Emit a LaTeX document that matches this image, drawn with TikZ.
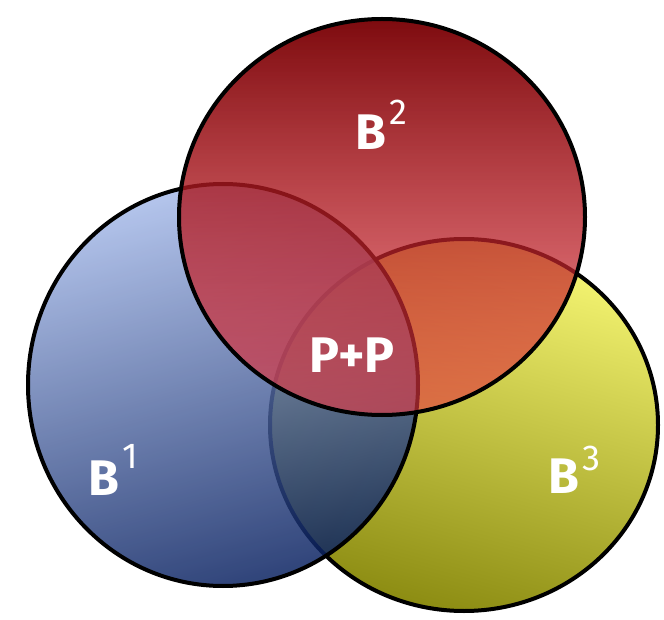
\documentclass[tikz,border=0pt]{standalone}
\usepackage{fontspec}
\setmainfont{Fira Sans}
\usetikzlibrary{fadings}
\definecolor{redtop}{RGB}{120,0,4}
\definecolor{redbot}{RGB}{235,58,68}
\definecolor{bluetop}{RGB}{165,185,232}
\definecolor{bluebot}{RGB}{8,32,96}
\definecolor{yeltop}{RGB}{246,246,115}
\definecolor{yelbot}{RGB}{140,140,18}
\tikzfading[name=redfade, top color=transparent!4, bottom color=transparent!40]
\tikzset{
  ring/.style={draw=black, line width=4pt},
  lbl/.style={text=white, inner sep=0pt, font=\fontsize{50}{50}\selectfont\bfseries},
}
\newcommand{\supnum}[2]{\hspace{3pt}\raisebox{#1pt}{\fontsize{36}{36}\selectfont\mdseries #2}}
\begin{document}
\begin{tikzpicture}[x=1pt,y=-1pt]
\useasboundingbox (0,0) rectangle (664,620);
% yellow (bottom)
\shade[top color=yeltop, bottom color=yelbot, shading angle=-15] (464,425) ellipse [x radius=194pt, y radius=186pt];
\draw[ring] (464,425) ellipse [x radius=194pt, y radius=186pt];
% blue
\shade[top color=bluetop, bottom color=bluebot, shading angle=15, fill opacity=0.84] (223,385) ellipse [x radius=195pt, y radius=201pt];
\draw[ring] (223,385) ellipse [x radius=195pt, y radius=201pt];
% red (top)
\shade[top color=redtop, bottom color=redbot, path fading=redfade] (382,217) ellipse [x radius=203pt, y radius=198pt];
\draw[ring] (382,217) ellipse [x radius=203pt, y radius=198pt];
% labels
\node[lbl, anchor=base west] (b1) at (88,495) {B\supnum{27}{1}};
\node[lbl, anchor=base west] (b2) at (355,150) {B\supnum{25}{2}};
\node[lbl, anchor=base west] (b3) at (548,493) {B\supnum{23}{3}};
\node[lbl, anchor=base] (pp) at (352,372) {P+P};
\end{tikzpicture}
\end{document}
